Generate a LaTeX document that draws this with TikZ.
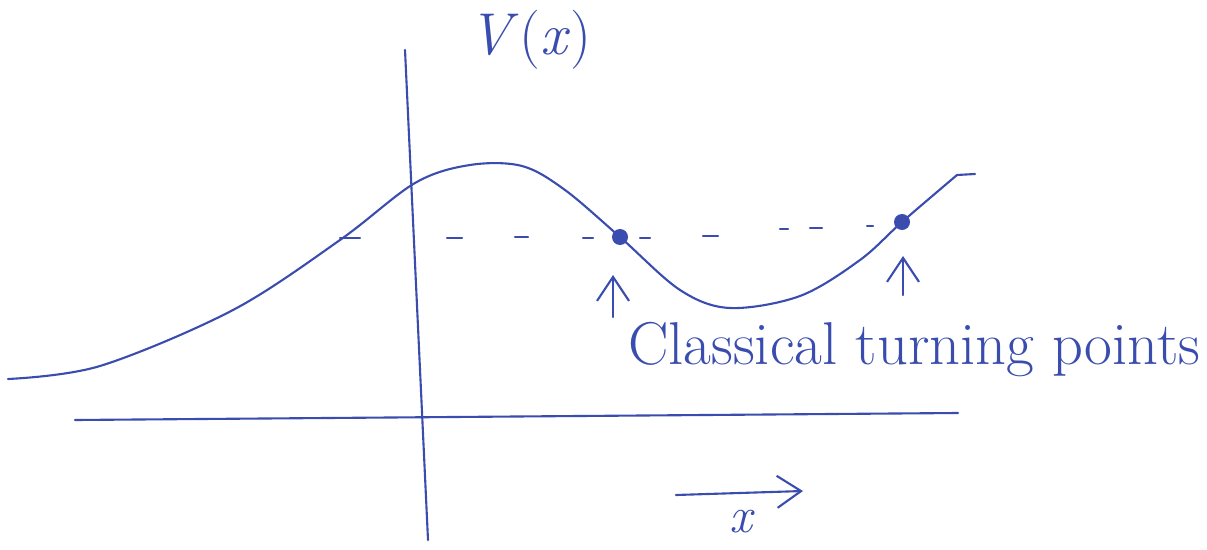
\documentclass[tikz,border=0pt]{standalone}
\usepackage{xcolor}
\definecolor{inkblue}{HTML}{3A4DAE}
\usepackage{tikz}
\usetikzlibrary{arrows.meta}
\tikzset{
  pen/.style   ={draw=inkblue, line width=1.5pt, line cap=round, line join=round},
  tparr/.style ={pen, -{Straight Barb[length=6mm, width=8mm]}},
  tpdot/.style ={circle, fill=inkblue, inner sep=0pt, minimum size=4mm},
  lbl/.style   ={text=inkblue, inner sep=0pt},
}

\begin{document}
\begin{tikzpicture}[x=0.025cm, y=-0.025cm]
  \useasboundingbox (0,0) rectangle (1207,550);
  % axes
  \coordinate (vtop)   at (405,50);
  \coordinate (vbot)   at (428,540);
  \coordinate (hleft)  at (75,420);
  \coordinate (hright) at (958,413);
  \draw[pen] (vtop) -- (vbot);
  \draw[pen] (hleft) -- (hright);
  \node[lbl, font=\fontsize{42}{44}\selectfont] (vlab) at (530,40) {\textit{V}(\textit{x\/})};
  % potential
  \draw[pen] plot[smooth, tension=0.55] coordinates {
    (8,379) (100,366) (233,310) (340,240) (415,183) (470,165) (522,166)
    (565,190) (620,237) (680,290) (730,308) (800,296) (860,260) (902,222)
    (957,175)} -- (975,174);
  % energy level, drawn by hand as single dashes
  \foreach \xa/\xb/\yy in {340/360/238, 447/462/238, 515/528/237, 583/593/238,
                           640/650/238, 703/718/236, 780/788/229, 810/822/228,
                           867/873/226}
    \draw[pen] (\xa,\yy) -- (\xb,\yy);
  \node[tpdot] (tpA) at (620,237) {};
  \node[tpdot] (tpB) at (902,222) {};
  % turning points
  \coordinate (aAtail) at (613,317);
  \coordinate (aAhead) at (613,275);
  \coordinate (aBtail) at (903,295);
  \coordinate (aBhead) at (903,256);
  \draw[tparr] (aAtail) -- (aAhead);
  \draw[tparr] (aBtail) -- (aBhead);
  \node[lbl, anchor=west, font=\fontsize{43}{45}\selectfont] (tplab) at (628,350) {Classical turning points};
  % x direction
  \coordinate (xtail) at (676,495);
  \coordinate (xhead) at (803,491);
  \draw[tparr] (xtail) -- (xhead);
  \node[lbl, font=\fontsize{36}{38}\selectfont] (xlab) at (742,522) {\textit{x}};
\end{tikzpicture}
\end{document}
